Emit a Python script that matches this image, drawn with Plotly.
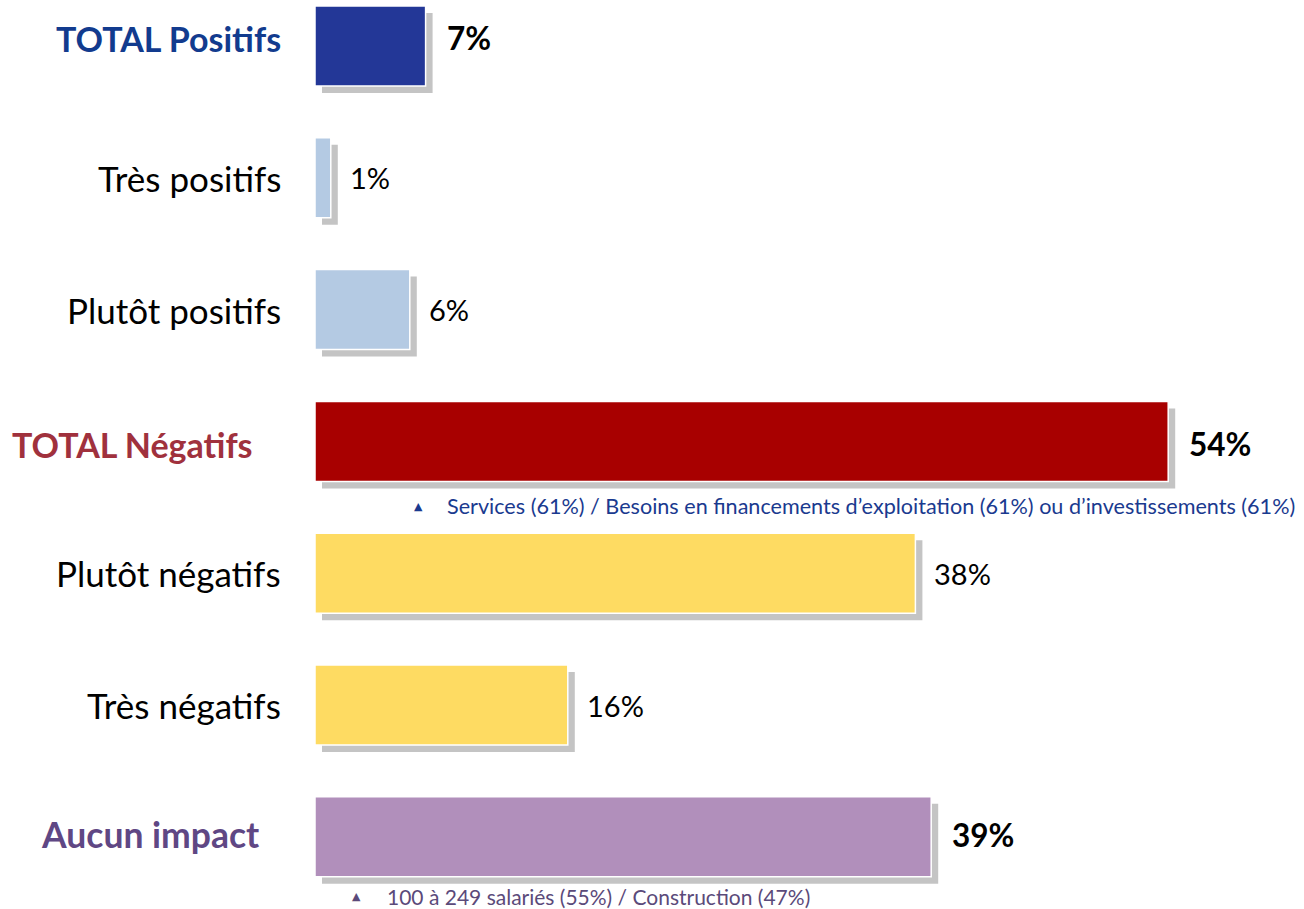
import plotly.graph_objects as go

# ------------------------------------------------------------
# Data
# ------------------------------------------------------------
categories = ["TOTAL Positifs", "Très positifs", "Plutôt positifs",
              "TOTAL Négatifs", "Plutôt négatifs", "Très négatifs", "Aucun impact"]
values = [7, 1, 6, 54, 38, 16, 39]
bar_colors = ["#233797", "#b4cae3", "#b4cae3", "#a80000",
              "#fedb62", "#fedb62", "#b18fbb"]
is_total = [True, False, False, True, False, False, True]
label_colors = ["#123b8e", "#000000", "#000000", "#a0313d",
                "#000000", "#000000", "#5f4784"]
label_shift = [-32, -32, -32, -60, -32, -32, -53]
label_yshift = [8, 0, 0, -3, 0, 0, 2]
label_size = [34, 35, 35, 34, 35, 35, 35.5]

notes = [
    ("TOTAL Négatifs",
     "Services (61%) / Besoins en financements d’exploitation (61%) ou d’investissements (61%)",
     "#1a3a8f", 103, 130, -65, 21.6),
    ("Aucun impact",
     "100 à 249 salariés (55%) / Construction (47%)",
     "#5b4a7a", 41, 70, -60, 21),
]

# geometry helpers (pixels -> data units)
PX_PER_PCT = 15.8
ROW_PX = 131.8
BAR_W = 80 / ROW_PX
SHADOW_DX = 7 / PX_PER_PCT
SHADOW_DY = 7 / ROW_PX

fig = go.Figure()

# ombre portée
fig.add_trace(go.Bar(
    y=categories, x=values, orientation="h",
    base=SHADOW_DX, width=BAR_W, offset=-BAR_W / 2 + SHADOW_DY,
    marker=dict(color="#c4c4c4", line=dict(width=0)),
    hoverinfo="skip", showlegend=False,
))

# barres
fig.add_trace(go.Bar(
    y=categories, x=values, orientation="h",
    width=BAR_W, offset=-BAR_W / 2,
    marker=dict(color=bar_colors, line=dict(color="white", width=1.5)),
    showlegend=False,
    hovertemplate="%{y}: %{x}%<extra></extra>",
))

annotations = []
for cat, val, tot, lc, xs, ys, fs in zip(categories, values, is_total, label_colors,
                                         label_shift, label_yshift, label_size):
    # libellé de gauche
    annotations.append(dict(
        x=0, y=cat, xref="x", yref="y", xanchor="right", yanchor="middle",
        xshift=xs, yshift=ys, showarrow=False, text=f"<b>{cat}</b>" if tot else cat,
        font=dict(family="Lato", size=fs, color=lc),
    ))
    # valeur
    annotations.append(dict(
        x=val, y=cat, xref="x", yref="y", xanchor="left", yanchor="middle",
        xshift=19 if tot else 17, yshift=ys if tot else 0, showarrow=False,
        text=f"<b>{val}%</b>" if tot else f"{val}%",
        font=dict(family="Lato", size=31.5 if tot else 29, color="#000000"),
    ))

for cat, txt, col, tri_x, txt_x, ys, fs in notes:
    annotations.append(dict(
        x=0, y=cat, xref="x", yref="y", xanchor="center", yanchor="middle",
        xshift=tri_x, yshift=ys, showarrow=False, text="▲",
        font=dict(family="DejaVu Sans", size=11, color=col),
    ))
    annotations.append(dict(
        x=0, y=cat, xref="x", yref="y", xanchor="left", yanchor="middle",
        xshift=txt_x, yshift=ys, showarrow=False, text=txt,
        font=dict(family="Lato", size=fs, color=col),
    ))

fig.update_layout(
    width=1304, height=909,
    margin=dict(l=315, r=0, t=0, b=0),
    paper_bgcolor="white", plot_bgcolor="white",
    barmode="overlay",
    xaxis=dict(range=[0, 989 / PX_PER_PCT], visible=False),
    yaxis=dict(type="category", categoryorder="array", categoryarray=categories,
               range=[(909 - 46) / ROW_PX, -46 / ROW_PX], visible=False),
    annotations=annotations,
)

fig.write_html("out.html", config={"displayModeBar": False},
               post_script="document.body.style.margin='0px';")
